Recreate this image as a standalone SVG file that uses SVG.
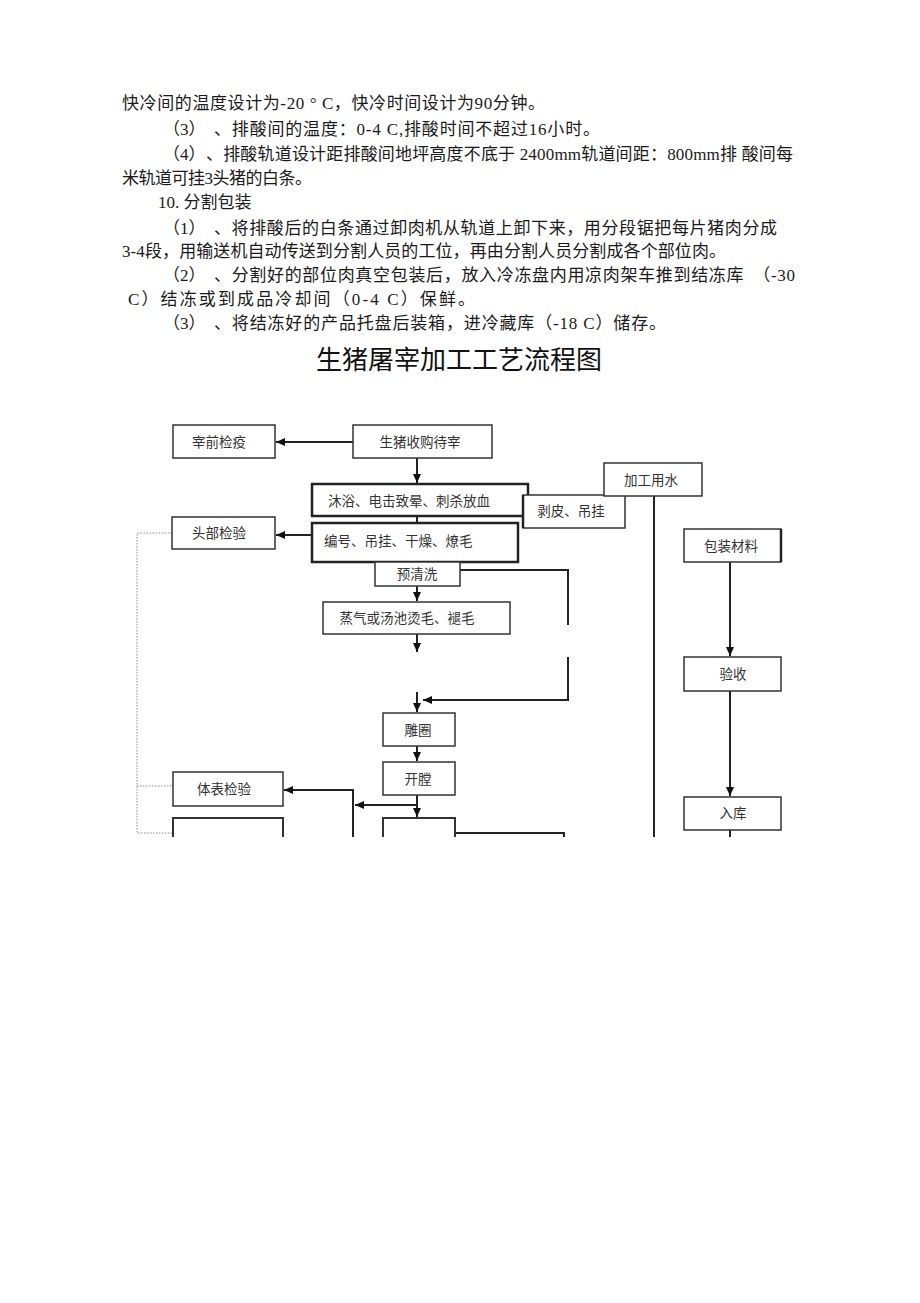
<svg xmlns="http://www.w3.org/2000/svg" width="920" height="1303" viewBox="0 0 920 1303">
<style>
.t{font-family:"Liberation Serif","Noto Sans CJK SC",serif;font-size:17px;fill:#1a1a1a}
.ttl{font-family:"Noto Sans CJK SC",sans-serif;font-size:26px;fill:#111;text-anchor:middle}
.bx{fill:#fff;stroke:#333;stroke-width:1.5}
.bxk{fill:#fff;stroke:#222;stroke-width:2.5}
.bt{font-family:"Liberation Serif","Noto Sans CJK SC",serif;font-size:13.5px;fill:#333;text-anchor:middle}
.bl{font-family:"Liberation Serif","Noto Sans CJK SC",serif;font-size:13.5px;fill:#333}
.ln{fill:none;stroke:#222;stroke-width:2}
.dot{fill:none;stroke:#b4b4b4;stroke-width:1.5;stroke-dasharray:1.5 1.5}
</style>
<defs>
<marker id="ah" markerWidth="10" markerHeight="10" refX="9" refY="5" orient="auto" markerUnits="userSpaceOnUse"><path d="M0,1 L9,5 L0,9 z" fill="#111"/></marker>
</defs>
<rect width="920" height="1303" fill="#fff"/>
<g id="body-text">
<text class="t" x="122" y="108.5" textLength="423" lengthAdjust="spacing">快冷间的温度设计为-20 ° C，快冷时间设计为90分钟。</text>
<text class="t" x="163" y="134.5">（3）</text>
<text class="t" x="214" y="134.5" textLength="386" lengthAdjust="spacing">、排酸间的温度：0-4 C,排酸时间不超过16小时。</text>
<text class="t" x="163" y="159.5">（4）</text>
<text class="t" x="206" y="159.5" textLength="587" lengthAdjust="spacing">、排酸轨道设计距排酸间地坪高度不底于 2400mm轨道间距：800mm排 酸间每</text>
<text class="t" x="122" y="183.5" textLength="190" lengthAdjust="spacing">米轨道可挂3头猪的白条。</text>
<text class="t" x="158" y="207.5">10. 分割包装</text>
<text class="t" x="163" y="233.5">（1）</text>
<text class="t" x="214" y="233.5" textLength="563" lengthAdjust="spacing">、将排酸后的白条通过卸肉机从轨道上卸下来，用分段锯把每片猪肉分成</text>
<text class="t" x="122" y="256.5" textLength="604" lengthAdjust="spacing">3-4段，用输送机自动传送到分割人员的工位，再由分割人员分割成各个部位肉。</text>
<text class="t" x="163" y="280.5">（2）</text>
<text class="t" x="214" y="280.5" textLength="581" lengthAdjust="spacing">、分割好的部位肉真空包装后，放入冷冻盘内用凉肉架车推到结冻库　（-30</text>
<text class="t" x="128" y="304.5" textLength="347" lengthAdjust="spacing">C）结冻或到成品冷却间（0-4 C）保鲜。</text>
<text class="t" x="163" y="328.5">（3）</text>
<text class="t" x="214" y="328.5" textLength="452" lengthAdjust="spacing">、将结冻好的产品托盘后装箱，进冷藏库（-18 C）储存。</text>
</g>
<text class="ttl" x="459" y="369">生猪屠宰加工工艺流程图</text>
<g id="connectors">
<path class="dot" d="M172,533 H137 V833 H173 M137,786 H173"/>
<path class="ln" d="M353,442 H276" marker-end="url(#ah)"/>
<path class="ln" d="M417,458 V483" marker-end="url(#ah)"/>
<path class="ln" d="M417,516 V523"/>
<path class="ln" d="M312,535 H276" marker-end="url(#ah)"/>
<path class="ln" d="M417,586 V601" marker-end="url(#ah)"/>
<path class="ln" d="M460,570 H568 V625"/>
<path class="ln" d="M568,657 V700 H423" marker-end="url(#ah)"/>
<path class="ln" d="M417,634 V652" marker-end="url(#ah)"/>
<path class="ln" d="M417,692 V712" marker-end="url(#ah)"/>
<path class="ln" d="M417,746 V761" marker-end="url(#ah)"/>
<path class="ln" d="M417,795 V817" marker-end="url(#ah)"/>
<path class="ln" d="M417,805 H355" marker-end="url(#ah)"/>
<path class="ln" d="M353,837 V790 H284" marker-end="url(#ah)"/>
<path class="ln" d="M455,833 H564 V837"/>
<path class="ln" d="M654,496 V837"/>
<path class="ln" d="M730,562 V656" marker-end="url(#ah)"/>
<path class="ln" d="M730,691 V796" marker-end="url(#ah)"/>
<path class="ln" d="M730,830 V837"/>
</g>
<g id="n-zaiqian"><rect class="bx" x="173" y="425" width="102" height="33"/><text class="bt" x="219" y="446.5">宰前检疫</text></g>
<g id="n-shouguo"><rect class="bx" x="353" y="425" width="139" height="33"/><text class="bt" x="420" y="446.5">生猪收购待宰</text></g>
<g id="n-muyu"><rect class="bxk" x="312" y="484" width="216" height="32"/><text class="bl" x="328" y="505.5">沐浴、电击致晕、刺杀放血</text></g>
<g id="n-bopi"><rect class="bx" x="523" y="495" width="102" height="33"/><path d="M523,495 V528" stroke="#222" stroke-width="2.5"/><text class="bt" x="571" y="516">剥皮、吊挂</text></g>
<g id="n-toubu"><rect class="bx" x="172" y="517" width="103" height="32"/><text class="bt" x="219" y="538">头部检验</text></g>
<g id="n-bianhao"><rect class="bxk" x="312" y="523" width="206" height="39"/><text class="bl" x="324" y="545.5">编号、吊挂、干燥、燎毛</text></g>
<g id="n-yuqingxi"><rect class="bx" x="375" y="562" width="85" height="24"/><text class="bt" x="417" y="578.5">预清洗</text></g>
<g id="n-jiagong"><rect class="bx" x="604" y="463" width="98" height="33"/><text class="bt" x="651" y="484.5">加工用水</text></g>
<g id="n-baozhuang"><rect class="bx" x="684" y="529" width="97" height="33"/><path d="M781,529 V562" stroke="#222" stroke-width="2.5"/><text class="bt" x="731" y="550.5">包装材料</text></g>
<g id="n-zhengqi"><rect class="bx" x="323" y="602" width="187" height="32"/><text class="bt" x="407" y="623">蒸气或汤池烫毛、褪毛</text></g>
<g id="n-diaoquan"><rect class="bx" x="383" y="713" width="72" height="33"/><text class="bt" x="418" y="734.5">雕圈</text></g>
<g id="n-kaitang"><rect class="bx" x="383" y="762" width="72" height="33"/><text class="bt" x="418" y="783.5">开膛</text></g>
<g id="n-tibiao"><rect class="bx" x="173" y="772" width="110" height="34"/><text class="bt" x="224" y="794">体表检验</text></g>
<g id="n-yanshou"><rect class="bx" x="684" y="657" width="97" height="34"/><text class="bt" x="733" y="678.5">验收</text></g>
<g id="n-ruku"><rect class="bx" x="684" y="797" width="97" height="33"/><text class="bt" x="733" y="818">入库</text></g>
<g id="n-partial-left"><path d="M173,837 V818 H283 V837" fill="#fff" stroke="#333" stroke-width="2"/></g>
<g id="n-partial-mid"><path d="M383,837 V818 H455 V837" fill="#fff" stroke="#333" stroke-width="2"/></g>
</svg>
